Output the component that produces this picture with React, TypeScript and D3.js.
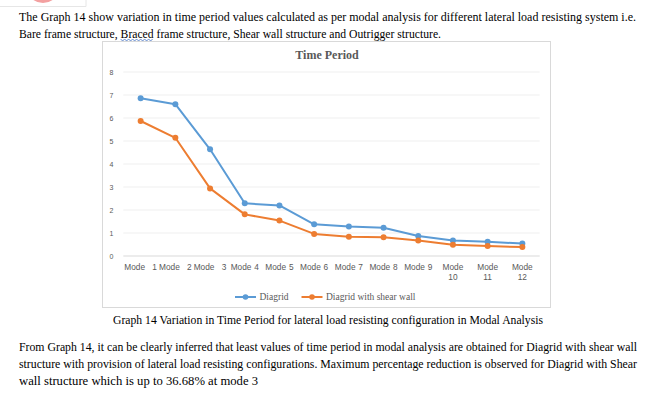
import React, { useRef, useLayoutEffect, useState } from 'react';
import * as d3 from 'd3';

const modes = ['Mode 1', 'Mode 2', 'Mode 3', 'Mode 4', 'Mode 5', 'Mode 6', 'Mode 7', 'Mode 8', 'Mode 9', 'Mode 10', 'Mode 11', 'Mode 12'];
const diagrid = [6.86, 6.6, 4.64, 2.29, 2.2, 1.38, 1.28, 1.23, 0.87, 0.67, 0.62, 0.54];
const diagridShear = [5.87, 5.14, 2.94, 1.81, 1.54, 0.96, 0.84, 0.81, 0.67, 0.49, 0.43, 0.39];
const yTicks = [0, 1, 2, 3, 4, 5, 6, 7, 8];

const introLines = [
  'The Graph 14 show variation in time period values calculated as per modal analysis for different lateral load resisting system i.e.',
  'Bare frame structure, Braced frame structure, Shear wall structure and Outrigger structure.',
];
const squiggleWord = 'Braced';
const caption = 'Graph 14 Variation in Time Period for lateral load resisting configuration in Modal Analysis';
const outroLines = [
  'From Graph 14, it can be clearly inferred that least values of time period in modal analysis are obtained for Diagrid with shear wall',
  'structure with provision of lateral load resisting configurations. Maximum percentage reduction is observed for Diagrid with Shear',
  'wall structure which is up to 36.68% at mode 3',
];

const BLUE = '#5b9bd5';
const ORANGE = '#ed7d31';
const GRAY = '#595959';
const serif = '"Liberation Serif", "Times New Roman", serif';
const sans = '"Liberation Sans", Arial, sans-serif';

const App = () => {
  const width = 652;
  const height = 393;
  const line2Ref = useRef<SVGTextElement>(null);
  const [squiggle, setSquiggle] = useState<[number, number]>([100, 126]);

  // put the spell-check squiggle under "Braced" wherever it actually lands
  useLayoutEffect(() => {
    const el = line2Ref.current;
    if (!el) return;
    const i = introLines[1].indexOf(squiggleWord);
    try {
      const a = el.getStartPositionOfChar(i).x;
      const b = el.getEndPositionOfChar(i + squiggleWord.length - 1).x;
      setSquiggle([a, b]);
    } catch (e) {
      // keep default
    }
  }, []);

  // plot area inside the chart box
  const x = d3.scaleBand().domain(modes).range([123.3, 539.7]);
  const y = d3.scaleLinear().domain([0, 8]).range([256, 72]);
  const cx = (m: string) => (x(m) ?? 0) + x.bandwidth() / 2;

  const line = d3.line<number>()
    .x((d, i) => cx(modes[i]))
    .y(d => y(d));

  const series = [
    { name: 'Diagrid', color: BLUE, values: diagrid },
    { name: 'Diagrid with shear wall', color: ORANGE, values: diagridShear },
  ];

  const sq = d3.range(squiggle[0], squiggle[1], 2);

  return (
    <svg width={width} height={height} style={{ position: 'absolute', left: 0, top: 0, background: '#fff' }}>
      <defs>
        <clipPath id="topclip">
          <rect x={0} y={0} width={86} height={7} />
        </clipPath>
      </defs>
      {/* leftover page decoration top-left */}
      <g clipPath="url(#topclip)">
        <ellipse cx={43} cy={-12} rx={16} ry={15} fill="#f3a0a0" />
      </g>
      <path d="M86,0 V6.5 H0" fill="none" stroke="#e6e6e6" strokeWidth={1} />

      {introLines.map((t, i) => (
        <text key={i} ref={i === 1 ? line2Ref : undefined} x={19} y={21 + i * 17} fontFamily={serif} fontSize={11.5} fill="#000"
          textLength={i === 0 ? 617 : 422} lengthAdjust="spacingAndGlyphs">{t}</text>
      ))}
      <path d={sq.map((d, i) => `${i === 0 ? 'M' : 'L'}${d},${i % 2 ? 41 : 39}`).join(' ')}
        fill="none" stroke="#4472c4" strokeWidth={0.8} />

      {/* chart box */}
      <rect x={102.5} y={41.5} width={448} height={266} fill="#fff" stroke="#d9d9d9" strokeWidth={1} />
      <text x={327} y={59} textAnchor="middle" fontFamily={serif} fontWeight="bold" fontSize={12} fill={GRAY}>Time Period</text>

      {yTicks.map(t => (
        <g key={t}>
          <line x1={123.3} x2={539.7} y1={y(t)} y2={y(t)} stroke={t === 0 ? '#d9d9d9' : '#efefef'} strokeWidth={1} />
          <text x={111.5} y={y(t) + 2.5} textAnchor="middle" fontFamily={sans} fontSize={7} fill={GRAY}>{t}</text>
        </g>
      ))}

      {modes.map((m, i) => {
        const parts = m.split(' ');
        const wrap = parts[1].length > 1;
        return wrap ? (
          <text key={m} textAnchor="middle" fontFamily={sans} fontSize={8.3} fill={GRAY}>
            <tspan x={cx(m)} y={269.5}>{parts[0]}</tspan>
            <tspan x={cx(m)} y={280}>{parts[1]}</tspan>
          </text>
        ) : (
          <text key={m} x={cx(m)} y={269.5} textAnchor="middle" fontFamily={sans} fontSize={8.3} fill={GRAY}
            wordSpacing={i < 3 ? 5 : 0.5}>{m}</text>
        );
      })}

      {series.map(s => (
        <g key={s.name}>
          <path d={line(s.values) ?? ''} fill="none" stroke={s.color} strokeWidth={2} strokeLinejoin="round" />
          {s.values.map((v, i) => (
            <circle key={i} cx={cx(modes[i])} cy={y(v)} r={3} fill={s.color} />
          ))}
        </g>
      ))}

      {/* legend */}
      {series.map((s, i) => {
        const lx = i === 0 ? 235 : 301.5;
        return (
          <g key={s.name}>
            <line x1={lx} x2={lx + 21} y1={297} y2={297} stroke={s.color} strokeWidth={2} />
            <circle cx={lx + 10.5} cy={297} r={2.8} fill={s.color} />
            <text x={lx + 24.5} y={300.3} fontFamily={serif} fontSize={9.5} fill={GRAY}>{s.name}</text>
          </g>
        );
      })}

      <text x={113} y={324} fontFamily={serif} fontSize={11.5} fill="#000" textLength={430} lengthAdjust="spacingAndGlyphs">{caption}</text>

      {outroLines.map((t, i) => (
        <text key={i} x={19} y={351 + i * 17} fontFamily={serif} fontSize={11.5} fill="#000"
          textLength={i === 2 ? 239 : 618} lengthAdjust="spacingAndGlyphs">{t}</text>
      ))}
    </svg>
  );
};

export default App;
